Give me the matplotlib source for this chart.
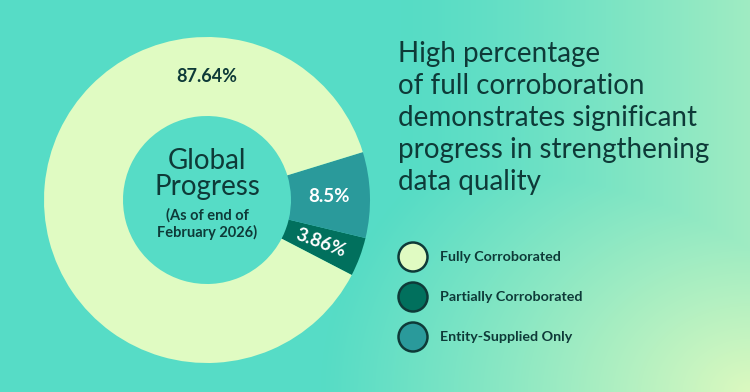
import numpy as np
import matplotlib.pyplot as plt
from matplotlib.patches import Circle

# data
categories = ['Fully Corroborated', 'Partially Corroborated', 'Entity-Supplied Only']
shares = [87.64, 3.86, 8.5]
share_labels = ['87.64%', '3.86%', '8.5%']
colors = ['#e0fbc2', '#01705d', '#2a9a9b']

title = 'High percentage\nof full corroboration\ndemonstrates significant\nprogress in strengthening\ndata quality'
dark = '#0e3a38'

W, H = 750, 392
fig = plt.figure(figsize=(W / 100, H / 100), dpi=100)

def px(x, y):
    return x / W, 1 - y / H

# background gradient: teal on the left, pale green towards bottom right
bg = fig.add_axes([0, 0, 1, 1])
yy, xx = np.mgrid[0:H, 0:W]
d = np.sqrt(((xx - W) / 430.0) ** 2 + ((yy - H) / 340.0) ** 2)
t = np.clip(1 - d, 0, 1) ** 1.1
t2 = np.clip((xx - 400) / 350.0, 0, 1) ** 1.3 * 0.55
t = np.clip(np.maximum(t, t2), 0, 1)
c0 = np.array([0x56, 0xdc, 0xc6]) / 255
c1 = np.array([0xdc, 0xf9, 0xbf]) / 255
img = c0[None, None, :] * (1 - t[..., None]) + c1[None, None, :] * t[..., None]
bg.imshow(img, extent=[0, W, H, 0], aspect='auto')
bg.set_xlim(0, W)
bg.set_ylim(H, 0)
bg.set_axis_off()

# donut
cx, cy, R, r_in = 207, 200, 163, 84
ax = fig.add_axes([(cx - R) / W, (H - cy - R) / H, 2 * R / W, 2 * R / H])
ax.patch.set_alpha(0)
# order on the ring: partially, entity going counter-clockwise from -27.4 deg
order = [1, 2, 0]
wedges, _ = ax.pie([shares[i] for i in order], colors=[colors[i] for i in order],
                   startangle=-27.4, counterclock=True, radius=1,
                   wedgeprops=dict(width=(R - r_in) / R, linewidth=0))
ax.set_xlim(-1, 1)
ax.set_ylim(-1, 1)
ax.set_axis_off()

mid = (1 + r_in / R) / 2
# labels on small slices at wedge centres
for w, i in zip(wedges, order):
    ang = (w.theta1 + w.theta2) / 2
    if i == 0:
        continue
    rot = ang if i == 1 else 0
    ax.text(mid * np.cos(np.radians(ang)) - 0.01, mid * np.sin(np.radians(ang)), share_labels[i],
            ha='center', va='center', color='white', fontsize=13.5, fontweight='bold',
            family='Lato', rotation=rot)
ax.text(0, mid, share_labels[0], ha='center', va='center', color=dark,
        fontsize=13, fontweight='bold', family='Lato')

# centre text
fig.text(*px(207, 174), 'Global\nProgress', ha='center', va='center', color=dark,
         fontsize=20, family='Lato', linespacing=1.0)
fig.text(*px(207, 224), '(As of end of\nFebruary 2026)', ha='center', va='center', color=dark,
         fontsize=10.5, family='Lato', fontweight='bold', linespacing=1.2)

# title
fig.text(*px(398, 41), title, ha='left', va='top', color=dark, fontsize=20,
         family='Lato', linespacing=1.28)

# legend
for k, i in enumerate([0, 1, 2]):
    y = 257 + 40 * k
    circ = Circle((413, y), 14.5, facecolor=colors[i], edgecolor=dark, linewidth=1.8)
    bg.add_patch(circ)
    fig.text(*px(440, y), categories[i], ha='left', va='center', color=dark,
             fontsize=10.3, fontweight='bold', family='Lato')

fig.savefig('out.png', dpi=100)
